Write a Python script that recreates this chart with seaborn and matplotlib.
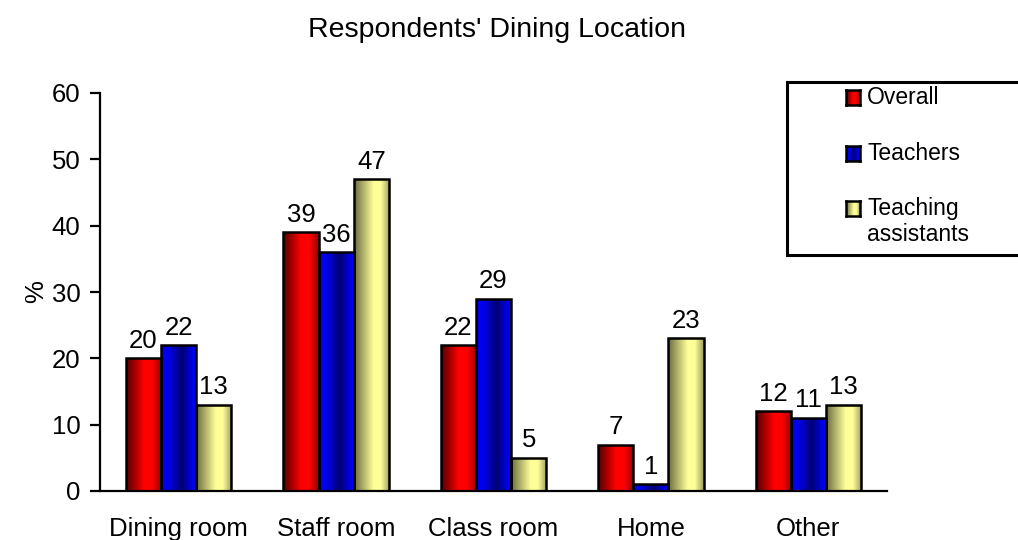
import numpy as np
import pandas as pd
import matplotlib
matplotlib.use("Agg")
import matplotlib.pyplot as plt
from matplotlib.colors import LinearSegmentedColormap
from matplotlib.patches import Rectangle
import seaborn as sns

# Survey results: where respondents eat lunch (percent)
locations = ["Dining room", "Staff room", "Class room", "Home", "Other"]
groups = ["Overall", "Teachers", "Teaching assistants"]
overall = [20, 39, 22, 7, 12]
teachers = [22, 36, 29, 1, 11]
assistants = [13, 47, 5, 23, 13]
y_ticks = [0, 10, 20, 30, 40, 50, 60]

df = pd.DataFrame({
    "Location": locations * 3,
    "Group": [groups[0]] * 5 + [groups[1]] * 5 + [groups[2]] * 5,
    "Percent": overall + teachers + assistants,
})

# Shaded fills for each series (horizontal gradient across the bar)
shades = {
    "Overall": LinearSegmentedColormap.from_list(
        "red_shade", [(0, "#500000"), (0.5, "#ff0000"), (0.72, "#ff0000"), (1, "#960000")]),
    "Teachers": LinearSegmentedColormap.from_list(
        "blue_shade", [(0, "#0000ff"), (0.25, "#0000e0"), (0.58, "#000074"), (0.85, "#0000e0"), (1, "#0000ff")]),
    "Teaching assistants": LinearSegmentedColormap.from_list(
        "yellow_shade", [(0, "#6a6a40"), (0.55, "#ffff99"), (0.75, "#ffff99"), (1, "#9c9c60")]),
}
base_colors = {"Overall": "#ff0000", "Teachers": "#0000ff", "Teaching assistants": "#ffff99"}

sns.set_theme(style="white")
plt.rcParams["font.family"] = ["Liberation Sans", "DejaVu Sans"]
plt.rcParams["text.color"] = "black"
plt.rcParams["axes.labelcolor"] = "black"

fs = 18.5
fig = plt.figure(figsize=(10.18, 5.40), dpi=100)
ax = fig.add_axes([100 / 1018, 49 / 540, 787 / 1018, 398 / 540])

sns.barplot(data=df, x="Location", y="Percent", hue="Group", order=locations,
            hue_order=groups, palette=base_colors, width=0.67, gap=0,
            edgecolor="black", linewidth=1.8, legend=False, ax=ax, zorder=3)

grad = np.linspace(0, 1, 256).reshape(1, -1)
for g, cont in zip(groups, ax.containers):
    for bar in cont:
        x, w, h = bar.get_x(), bar.get_width(), bar.get_height()
        im = ax.imshow(grad, cmap=shades[g], aspect="auto",
                       extent=[x, x + w, 0, h], zorder=2.5, interpolation="bilinear")
        im.set_clip_path(bar)
        bar.set_facecolor("none")
    ax.bar_label(cont, labels=[f"{v:g}" for v in cont.datavalues],
                 padding=4, fontsize=fs, color="black")

ax.set_xlim(-0.5, 4.5)
ax.set_ylim(0, 60)
ax.set_yticks(y_ticks)
ax.set_xlabel("")
ax.set_ylabel("%", fontsize=fs, labelpad=3)

for side in ["top", "right"]:
    ax.spines[side].set_visible(False)
for side in ["left", "bottom"]:
    ax.spines[side].set_color("black")
    ax.spines[side].set_linewidth(1.6)

ax.set_xticks(np.arange(-0.5, 5, 1), minor=True)
ax.tick_params(axis="x", which="major", length=0, pad=19, labelsize=fs, colors="black")
ax.tick_params(axis="x", which="minor", length=5.5, width=1.6, direction="out", color="black")
ax.tick_params(axis="y", which="major", length=7, width=1.6, direction="out",
               pad=7, labelsize=fs, colors="black", left=True)
ax.grid(False)

fig.text(497 / 1018, 1 - 30 / 540, "Respondents' Dining Location",
         ha="center", va="center", fontsize=20.5)

# Legend box, drawn in figure pixels
W, H = 1018, 540
frame = Rectangle((787 / W, 1 - 255 / H), 260 / W, 173 / H, transform=fig.transFigure,
                  facecolor="white", edgecolor="black", linewidth=2.2, clip_on=False, zorder=1)
fig.add_artist(frame)
entries = [("Overall", 90, [("Overall", 97)]),
           ("Teachers", 146, [("Teachers", 153)]),
           ("Teaching assistants", 201, [("Teaching", 209), ("assistants", 235)])]
for g, top, lines in entries:
    kax = fig.add_axes([846 / W, 1 - (top + 15) / H, 14 / W, 15 / H])
    kax.set_zorder(5)
    kax.imshow(grad, cmap=shades[g], aspect="auto", interpolation="bilinear")
    kax.set_xticks([])
    kax.set_yticks([])
    for s in kax.spines.values():
        s.set_visible(True)
        s.set_color("black")
        s.set_linewidth(1.8)
    for text, yc in lines:
        fig.text(867 / W, 1 - yc / H, text, ha="left", va="center", fontsize=16.5,
                 zorder=6)

fig.savefig("out.png", dpi=100)
